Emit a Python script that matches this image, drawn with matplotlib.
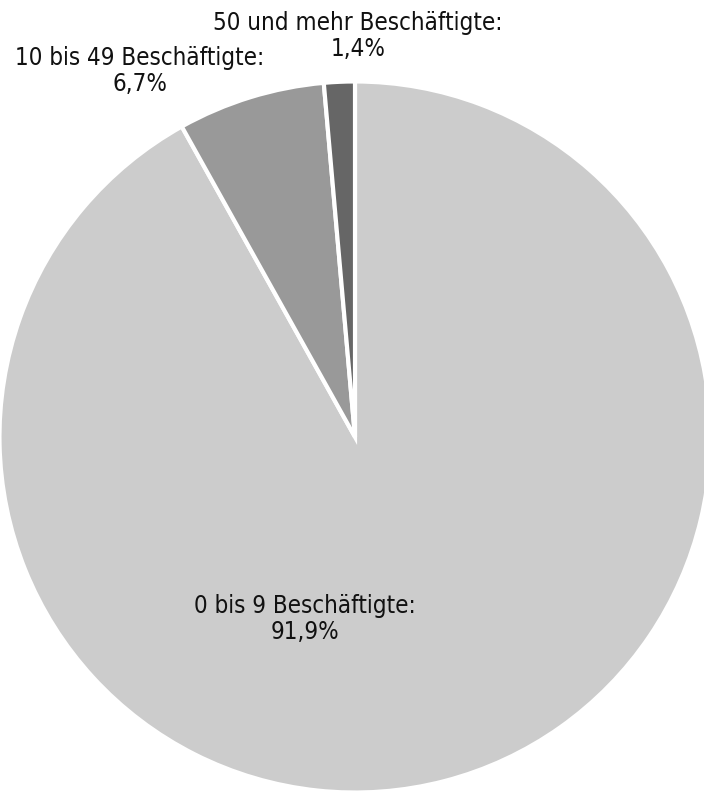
import matplotlib
matplotlib.use("Agg")
import matplotlib.pyplot as plt

categories = ["0 bis 9 Beschäftigte", "10 bis 49 Beschäftigte", "50 und mehr Beschäftigte"]
values = [91.9, 6.7, 1.4]
value_labels = ["91,9%", "6,7%", "1,4%"]
colors = ["#cccccc", "#999999", "#666666"]

W, H = 704, 791
fig = plt.figure(figsize=(W / 100, H / 100), dpi=100)
ax = fig.add_axes([0, 0, 1, 1])
cx, cy, R = 355, 437, 352

ax.pie(values, colors=colors, startangle=90, counterclock=False, radius=1.01,
       wedgeprops=dict(edgecolor="white", linewidth=3))
ax.set_xlim(-cx / R, (W - cx) / R)
ax.set_ylim((cy - H) / R, cy / R)
ax.set_aspect("auto")
ax.axis("off")

label_px = [(305, 619), (140, 71), (358, 36)]
for cat, vl, (px, py) in zip(categories, value_labels, label_px):
    ax.text((px - cx) / R, (cy - py) / R, f"{cat}:\n{vl}", ha="center", va="center",
            fontsize=17.3, color="#111111", linespacing=1.15, fontstretch="condensed",
            family=["DejaVu Sans"])

fig.savefig("out.png", dpi=100)
